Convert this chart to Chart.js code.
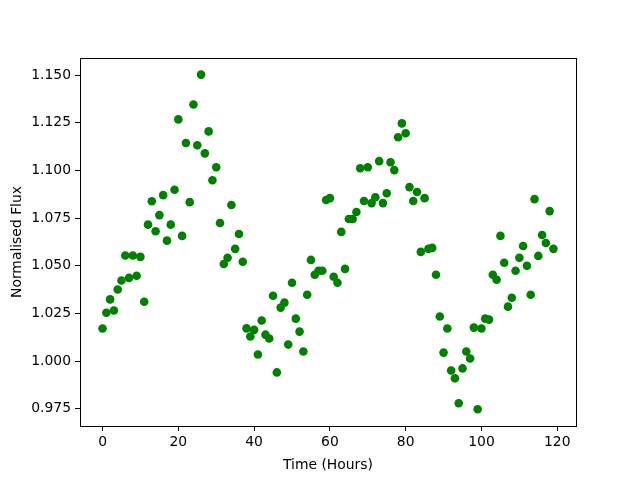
<!DOCTYPE html>
<html>
<head>
<meta charset="utf-8">
<script src="https://cdn.jsdelivr.net/npm/chart.js@4/dist/chart.umd.min.js"></script>
<style>
html,body{margin:0;padding:0;background:#fff;}
#c{display:block;}
</style>
</head>
<body>
<canvas id="c" width="640" height="480"></canvas>
<script>
const hours = [
  0,1,2,3,4,5,6,7,8,9,10,11,12,13,14,15,16,17,18,19,
  20,21,22,23,24,25,26,27,28,29,30,31,32,33,34,35,36,37,38,39,
  40,41,42,43,44,45,46,47,48,49,50,51,52,53,54,55,56,57,58,59,
  60,61,62,63,64,65,66,67,68,69,70,71,72,73,74,75,76,77,78,79,
  80,81,82,83,84,85,86,87,88,89,90,91,92,93,94,95,96,97,98,99,
  100,101,102,103,104,105,106,107,108,109,110,111,112,113,114,115,116,117,118,119
];
const flux = [
  1.0171, 1.0254, 1.0324, 1.0266, 1.0376, 1.0423, 1.0554, 1.0437, 1.0554, 1.0448,
  1.0547, 1.0312, 1.0716, 1.0839, 1.0681, 1.0766, 1.0871, 1.0632, 1.0716, 1.0899,
  1.1268, 1.0657, 1.1144, 1.0834, 1.1346, 1.1132, 1.1503, 1.1090, 1.1205, 1.0949,
  1.1017, 1.0725, 1.0510, 1.0542, 1.0819, 1.0589, 1.0667, 1.0521, 1.0172, 1.0129,
  1.0164, 1.0035, 1.0213, 1.0139, 1.0119, 1.0343, 0.9941, 1.0281, 1.0307, 1.0087,
  1.0411, 1.0223, 1.0155, 1.0051, 1.0348, 1.0531, 1.0453, 1.0474, 1.0474, 1.0845,
  1.0855, 1.0443, 1.0411, 1.0678, 1.0484, 1.0746, 1.0746, 1.0782, 1.1012, 1.0840,
  1.1017, 1.0829, 1.0860, 1.1049, 1.0829, 1.0881, 1.1043, 1.1002, 1.1174, 1.1247,
  1.1195, 1.0913, 1.0840, 1.0887, 1.0573, 1.0855, 1.0589, 1.0594, 1.0453, 1.0234,
  1.0045, 1.0171, 0.9951, 0.9910, 0.9779, 0.9962, 1.0051, 1.0014, 1.0176, 0.9748,
  1.0171, 1.0223, 1.0218, 1.0453, 1.0427, 1.0657, 1.0516, 1.0286, 1.0333, 1.0474,
  1.0542, 1.0604, 1.0500, 1.0348, 1.0850, 1.0552, 1.0662, 1.0620, 1.0787, 1.0589
];
const xTicks = [0, 20, 40, 60, 80, 100, 120];
const yTicks = [0.975, 1.000, 1.025, 1.050, 1.075, 1.100, 1.125, 1.150];
const xLabel = "Time (Hours)";
const yLabel = "Normalised Flux";

const points = hours.map((h, i) => ({x: h, y: flux[i]}));
const FONT = "'DejaVu Sans', sans-serif";

const framePlugin = {
  id: 'frame',
  afterDraw(chart) {
    const a = chart.chartArea, ctx = chart.ctx;
    ctx.save();
    ctx.strokeStyle = '#000';
    ctx.lineWidth = 1;
    ctx.strokeRect(Math.round(a.left) + 0.5, Math.round(a.top) + 0.5,
                   Math.round(a.right - a.left), Math.round(a.bottom - a.top));
    ctx.restore();
  }
};

new Chart(document.getElementById('c'), {
  type: 'scatter',
  data: {
    datasets: [{
      data: points,
      backgroundColor: '#008000',
      borderColor: '#008000',
      borderWidth: 0,
      pointRadius: 4.3,
      pointHoverRadius: 4.3
    }]
  },
  options: {
    responsive: false,
    animation: false,
    events: [],
    layout: { padding: { left: 0, top: 58, right: 64, bottom: 0 } },
    plugins: { legend: { display: false }, tooltip: { enabled: false } },
    scales: {
      x: {
        type: 'linear',
        min: -5.95,
        max: 124.95,
        afterBuildTicks(scale) { scale.ticks = xTicks.map(v => ({value: v})); },
        afterFit(scale) { scale.height = 54; },
        grid: { display: true, drawOnChartArea: false, drawTicks: true, tickLength: 5, color: '#000', lineWidth: 1 },
        border: { display: true, color: '#000', width: 1 },
        ticks: { color: '#000', font: { family: FONT, size: 13.9 }, padding: 3, maxRotation: 0, callback: v => String(v) },
        title: { display: true, text: xLabel, color: '#000', font: { family: FONT, size: 13.9 }, padding: { top: 0, bottom: 6 } }
      },
      y: {
        type: 'linear',
        min: 0.9660,
        max: 1.1590,
        afterBuildTicks(scale) { scale.ticks = yTicks.map(v => ({value: v})); },
        afterFit(scale) { scale.width = 80; },
        grid: { display: true, drawOnChartArea: false, drawTicks: true, tickLength: 5, color: '#000', lineWidth: 1 },
        border: { display: true, color: '#000', width: 1 },
        ticks: { color: '#000', font: { family: FONT, size: 13.9 }, padding: 4, callback: v => Number(v).toFixed(3) },
        title: { display: true, text: yLabel, color: '#000', font: { family: FONT, size: 13.9 }, padding: { top: 9, bottom: 0 } }
      }
    }
  },
  plugins: [framePlugin]
});
</script>
</body>
</html>
